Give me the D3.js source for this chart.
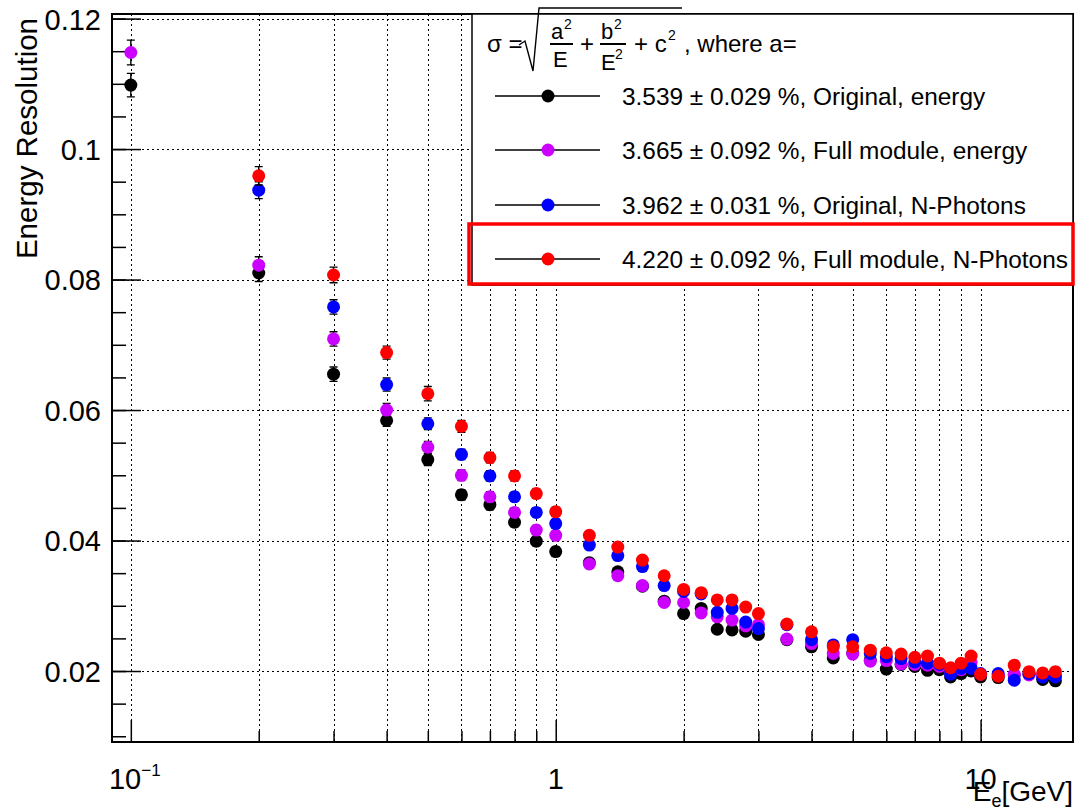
<!DOCTYPE html>
<html><head><meta charset="utf-8">
<script src="https://cdn.jsdelivr.net/npm/d3@7"></script>
<style>
body{margin:0;background:#fff}
text{font-family:"Liberation Sans",Arial,Helvetica,sans-serif;fill:#000}
</style>
</head><body>
<svg id="c" width="1079" height="810"></svg>
<script>
// ---------------- data ----------------
const energies = [0.1,0.2,0.3,0.4,0.5,0.6,0.7,0.8,0.9,1.0,1.2,1.4,1.6,1.8,2.0,2.2,2.4,2.6,2.8,3.0,3.5,4.0,4.5,5.0,5.5,6.0,6.5,7.0,7.5,8.0,8.5,9.0,9.5,10,11,12,13,14,15];
const resOrigEnergy = [0.1098,0.0810,0.0655,0.0584,0.0524,0.0470,0.0455,0.0428,0.0399,0.0383,0.0366,0.0352,0.0330,0.0307,0.0288,0.0296,0.0264,0.0263,0.0261,0.0256,0.0248,0.0237,0.0220,0.0228,0.0217,0.0203,0.0210,0.0207,0.0201,0.0202,0.0191,0.0196,0.0200,0.0191,0.0190,0.0194,0.0195,0.0187,0.0185];
const resFullEnergy = [0.1148,0.0822,0.0709,0.0600,0.0543,0.0500,0.0467,0.0443,0.0416,0.0408,0.0364,0.0346,0.0331,0.0305,0.0305,0.0289,0.0283,0.0278,0.0269,0.0271,0.0249,0.0242,0.0227,0.0226,0.0215,0.0216,0.0211,0.0210,0.0209,0.0207,0.0197,0.0202,0.0213,0.0195,0.0194,0.0195,0.0194,0.0194,0.0193];
const resOrigPhotons = [null,0.0937,0.0758,0.0639,0.0579,0.0532,0.0499,0.0467,0.0443,0.0426,0.0393,0.0377,0.0360,0.0331,0.0322,0.0318,0.0290,0.0296,0.0275,0.0265,0.0271,0.0248,0.0240,0.0248,0.0227,0.0222,0.0219,0.0214,0.0212,0.0210,0.0195,0.0204,0.0204,0.0196,0.0196,0.0186,0.0196,0.0191,0.0191];
const resFullPhotons = [null,0.0959,0.0807,0.0688,0.0625,0.0575,0.0527,0.0499,0.0472,0.0444,0.0408,0.0390,0.0370,0.0346,0.0325,0.0320,0.0309,0.0309,0.0298,0.0288,0.0272,0.0260,0.0237,0.0237,0.0232,0.0228,0.0226,0.0221,0.0223,0.0212,0.0205,0.0212,0.0223,0.0195,0.0192,0.0209,0.0199,0.0197,0.0199];
const errOrigEnergy = [0.0018,0.0013,0.0011,0.0009,0.0009,0.0008,0.0008,0.0007,0.0007,0.0007,0.0006,0.0006,0.0006,0.0005,0.0005,0.0005,0.0005,0.0005,0.0005,0.0005,0.0004,0.0004,0.0004,0.0004,0.0004,0.0004,0.0004,0.0004,0.0004,0.0004,0.0004,0.0004,0.0004,0.0004,0.0004,0.0004,0.0004,0.0004,0.0004];
const errFullEnergy = [0.0019,0.0013,0.0011,0.0010,0.0009,0.0008,0.0008,0.0007,0.0007,0.0007,0.0006,0.0006,0.0006,0.0005,0.0005,0.0005,0.0005,0.0005,0.0005,0.0005,0.0004,0.0004,0.0004,0.0004,0.0004,0.0004,0.0004,0.0004,0.0004,0.0004,0.0004,0.0004,0.0004,0.0004,0.0004,0.0004,0.0004,0.0004,0.0004];
const errOrigPhotons = [null,0.0013,0.0011,0.0010,0.0009,0.0008,0.0008,0.0007,0.0007,0.0007,0.0006,0.0006,0.0006,0.0005,0.0005,0.0005,0.0005,0.0005,0.0005,0.0005,0.0004,0.0004,0.0004,0.0004,0.0004,0.0004,0.0004,0.0004,0.0004,0.0004,0.0004,0.0004,0.0004,0.0004,0.0004,0.0004,0.0004,0.0004,0.0004];
const errFullPhotons = [null,0.0014,0.0012,0.0010,0.0011,0.0009,0.0008,0.0008,0.0007,0.0007,0.0006,0.0006,0.0006,0.0005,0.0005,0.0005,0.0005,0.0005,0.0005,0.0005,0.0004,0.0004,0.0004,0.0004,0.0004,0.0004,0.0004,0.0004,0.0004,0.0004,0.0004,0.0004,0.0004,0.0004,0.0004,0.0004,0.0004,0.0004,0.0004];
const seriesLabels = ["3.539 \u00b1 0.029 %, Original, energy","3.665 \u00b1 0.092 %, Full module, energy","3.962 \u00b1 0.031 %, Original, N-Photons","4.220 \u00b1 0.092 %, Full module, N-Photons"];
const yTickValues = [0.02,0.04,0.06,0.08,0.1,0.12];
const yTickLabels = ["0.02","0.04","0.06","0.08","0.1","0.12"];
const xMajorTicks = [0.1,1,10];
const xTickLabels = [["10","\u22121"],["1",""],["10",""]];
const xMinorTicks = [0.2,0.3,0.4,0.5,0.6,0.7,0.8,0.9,2,3,4,5,6,7,8,9];
const xTitle = ["E","e","[GeV]"];
const yTitle = "Energy Resolution";

// ---------------- styles / layout ----------------
const colors = ["#000000","#cc00ff","#0000ff","#ff0000"];
const L = 112, R = 1073, T = 14, B = 742;
const svg = d3.select("#c");

const x = d3.scaleLog().domain([0.0903, 16.5]).range([L, R]);
const y = d3.scaleLinear().domain([0.00912, 0.1207]).range([B, T]);

// grid
const gridX = xMajorTicks.concat(xMinorTicks).filter(v => x(v) > L + 1 && x(v) < R - 1);
svg.append("g").selectAll("line").data(gridX).join("line")
  .attr("x1", d => Math.round(x(d)) + 0.5).attr("x2", d => Math.round(x(d)) + 0.5).attr("y1", T).attr("y2", B)
  .attr("stroke", "#000").attr("stroke-width", 1.6).attr("stroke-dasharray", "2,3")
  .attr("shape-rendering", "crispEdges");
svg.append("g").selectAll("line").data(yTickValues).join("line")
  .attr("x1", L).attr("x2", R).attr("y1", d => Math.round(y(d)) + 0.5).attr("y2", d => Math.round(y(d)) + 0.5)
  .attr("stroke", "#000").attr("stroke-width", 1.6).attr("stroke-dasharray", "2,3")
  .attr("shape-rendering", "crispEdges");

// axes
const yMinor = d3.range(0.01, 0.1205, 0.005);
svg.append("g").attr("transform", `translate(${L},0)`)
  .call(d3.axisLeft(y).tickValues(yMinor).tickSize(-14).tickFormat(""))
  .call(g => g.select(".domain").remove())
  .call(g => g.selectAll("line").attr("stroke-width", 1.5));
svg.append("g").attr("transform", `translate(${L},0)`)
  .call(d3.axisLeft(y).tickValues(yTickValues).tickSize(-29).tickPadding(11)
        .tickFormat((d, i) => yTickLabels[i]))
  .call(g => g.select(".domain").remove())
  .call(g => g.selectAll("line").attr("stroke-width", 1.5))
  .call(g => g.selectAll("text").attr("font-size", 29).attr("font-family", "Liberation Sans, Arial, sans-serif").attr("dy", "0.36em"));

svg.append("g").attr("transform", `translate(0,${B})`)
  .call(d3.axisBottom(x).tickValues(xMinorTicks).tickSize(-11).tickFormat(""))
  .call(g => g.select(".domain").remove())
  .call(g => g.selectAll("line").attr("stroke-width", 1.5));
svg.append("g").attr("transform", `translate(0,${B})`)
  .call(d3.axisBottom(x).tickValues(xMajorTicks).tickSize(-22).tickFormat(""))
  .call(g => g.select(".domain").remove())
  .call(g => g.selectAll("line").attr("stroke-width", 1.5));

// x tick labels
xMajorTicks.forEach((v, i) => {
  const t = svg.append("text").attr("y", 789).attr("font-size", 29).attr("text-anchor", "middle");
  t.append("tspan").text(xTickLabels[i][0]);
  if (xTickLabels[i][1]) t.append("tspan").attr("font-size", 17).attr("dy", -13).text(xTickLabels[i][1]);
  t.attr("x", x(v) + (xTickLabels[i][1] ? 4 : 0));
});

// data
const series = [
  {v: resOrigEnergy, e: errOrigEnergy},
  {v: resFullEnergy, e: errFullEnergy},
  {v: resOrigPhotons, e: errOrigPhotons},
  {v: resFullPhotons, e: errFullPhotons}
];
series.forEach((s, si) => {
  const pts = energies.map((E, i) => ({E, v: s.v[i], e: s.e[i]})).filter(p => p.v != null);
  const g = svg.append("g");
  g.selectAll("path.err").data(pts).join("path").attr("class", "err")
    .attr("d", p => {
      const cx = x(p.E), y1 = y(p.v + p.e), y2 = y(p.v - p.e);
      return `M${cx},${y1}V${y2}M${cx-4},${y1}H${cx+4}M${cx-4},${y2}H${cx+4}`;
    })
    .attr("stroke", "#000").attr("stroke-width", 1.4).attr("fill", "none");
  g.selectAll("circle").data(pts).join("circle")
    .attr("cx", p => x(p.E)).attr("cy", p => y(p.v)).attr("r", 6.5)
    .attr("fill", colors[si]);
});

// frame
svg.append("rect").attr("x", L).attr("y", T).attr("width", R - L).attr("height", B - T)
  .attr("fill", "none").attr("stroke", "#000").attr("stroke-width", 2);

// axis titles
svg.append("text").attr("transform", `translate(37,18) rotate(-90)`)
  .attr("text-anchor", "end").attr("font-size", 29.5).text(yTitle);
const xt = svg.append("text").attr("x", R).attr("y", 801).attr("text-anchor", "end").attr("font-size", 28);
xt.append("tspan").text(xTitle[0]);
xt.append("tspan").attr("font-size", 18).attr("dy", 6).text(xTitle[1]);
xt.append("tspan").attr("dy", -6).text(xTitle[2]);

// legend
const LG = {x0: 472, y0: 14, x1: 1073, y1: 285};
svg.append("rect").attr("x", LG.x0).attr("y", LG.y0).attr("width", LG.x1 - LG.x0).attr("height", LG.y1 - LG.y0)
  .attr("fill", "#fff").attr("stroke", "#000").attr("stroke-width", 1.5);

// formula header
const F = svg.append("g");
F.append("text").attr("x", 487).attr("y", 52).attr("font-size", 24).text("\u03c3 =");
F.append("path").attr("d", "M519,45 L525,41 L533,71 L539,8 L682,8").attr("fill", "none").attr("stroke", "#000").attr("stroke-width", 1.4);
F.append("text").attr("x", 551).attr("y", 39).attr("font-size", 22).text("a");
F.append("text").attr("x", 564).attr("y", 29).attr("font-size", 14).text("2");
F.append("line").attr("x1", 550).attr("x2", 573).attr("y1", 44).attr("y2", 44).attr("stroke", "#000").attr("stroke-width", 2);
F.append("text").attr("x", 553).attr("y", 67).attr("font-size", 22).text("E");
F.append("text").attr("x", 580).attr("y", 52).attr("font-size", 24).text("+");
F.append("text").attr("x", 601).attr("y", 39).attr("font-size", 22).text("b");
F.append("text").attr("x", 614).attr("y", 29).attr("font-size", 14).text("2");
F.append("line").attr("x1", 600).attr("x2", 626).attr("y1", 44).attr("y2", 44).attr("stroke", "#000").attr("stroke-width", 2);
F.append("text").attr("x", 601).attr("y", 70).attr("font-size", 22).text("E");
F.append("text").attr("x", 615).attr("y", 59).attr("font-size", 14).text("2");
F.append("text").attr("x", 634).attr("y", 52).attr("font-size", 24).text("+ c");
F.append("text").attr("x", 668).attr("y", 40).attr("font-size", 14).text("2");
F.append("text").attr("x", 684).attr("y", 52).attr("font-size", 24).text(", where a=");

const rowY = [96, 150, 205, 259];
seriesLabels.forEach((lab, i) => {
  const yy = rowY[i];
  svg.append("line").attr("x1", 495).attr("x2", 600).attr("y1", yy).attr("y2", yy).attr("stroke", "#000").attr("stroke-width", 1.3);
  svg.append("circle").attr("cx", 548).attr("cy", yy).attr("r", 6.5).attr("fill", colors[i]);
  svg.append("text").attr("x", 622).attr("y", yy + 9).attr("font-size", 24.4).text(lab);
});
svg.append("rect").attr("x", 469).attr("y", 224).attr("width", 1073 - 469).attr("height", 60)
  .attr("fill", "none").attr("stroke", "#ff0000").attr("stroke-width", 3.5);
</script>
</body></html>
